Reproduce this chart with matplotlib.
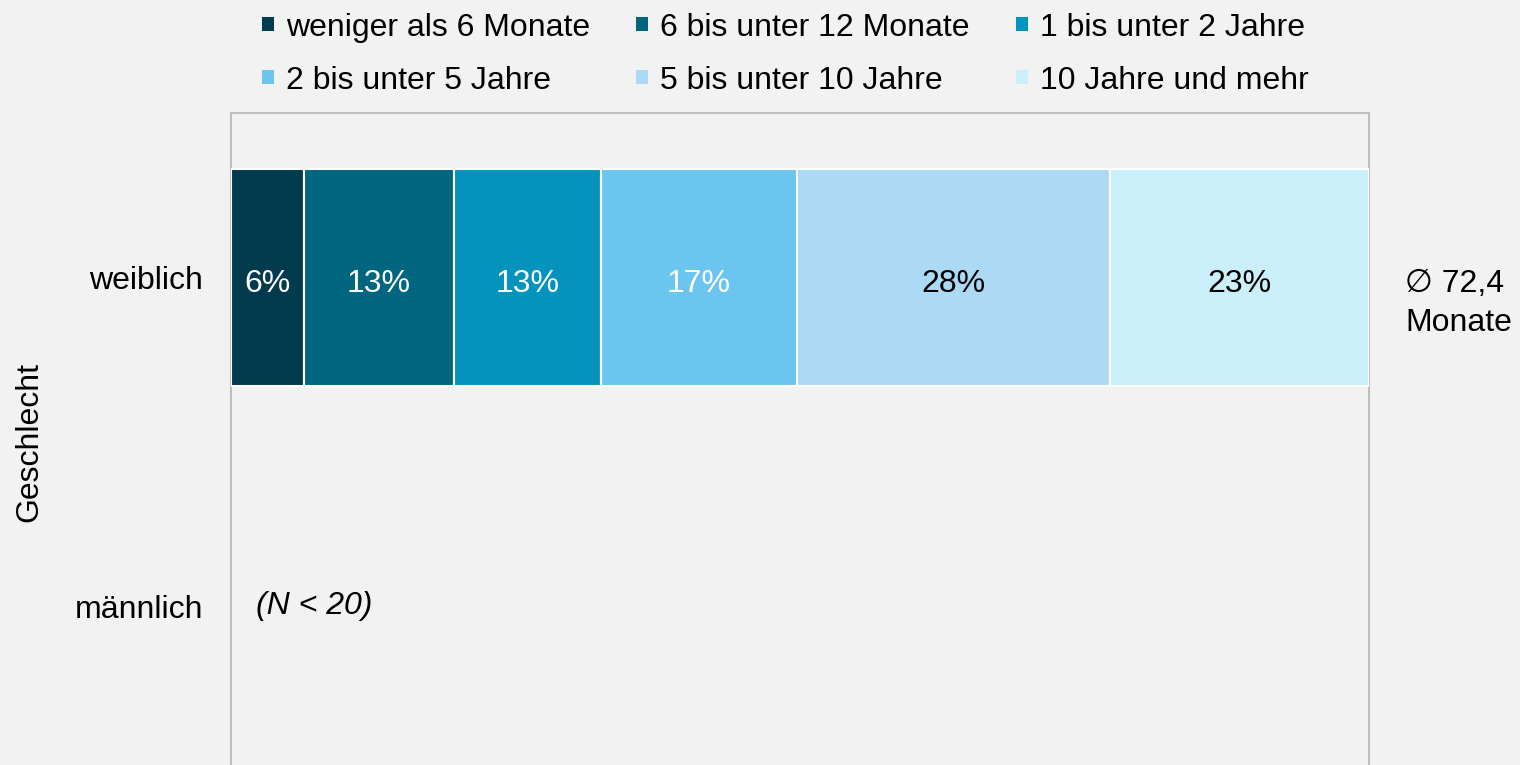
import matplotlib.pyplot as plt
from matplotlib.patches import Patch

plt.rcParams['font.family'] = ['Liberation Sans', 'DejaVu Sans']

# Data
groups = ["weiblich", "männlich"]
categories = ["weniger als 6 Monate", "6 bis unter 12 Monate", "1 bis unter 2 Jahre",
              "2 bis unter 5 Jahre", "5 bis unter 10 Jahre", "10 Jahre und mehr"]
values_weiblich = [6.4, 13.2, 12.9, 17.2, 27.5, 22.8]
colors = ["#023a4e", "#00657f", "#0393bd", "#6bc5ef", "#acdaf4", "#cbeffa"]
label_colors = ["white", "white", "white", "white", "black", "black"]
mean_text = "\u2205 72,4\nMonate"
note_maennlich = "(N < 20)"

fs = 23
bg = "#f2f2f2"
fig = plt.figure(figsize=(15.2, 7.65), dpi=100, facecolor=bg)
ax = fig.add_axes([0.152, -0.0072, 0.7487, 0.8595], facecolor=bg)

left = 0
for val, col, tcol in zip(values_weiblich, colors, label_colors):
    ax.barh(0, val, left=left, height=0.66, color=col, edgecolor="white", linewidth=1.5, zorder=3)
    ax.text(left + val / 2, 0.02, f"{round(val)}%", ha="center", va="center",
            color=tcol, fontsize=fs, zorder=4)
    left += val

ax.text(2.2, 1, note_maennlich, ha="left", va="center", fontsize=fs, style="italic")
ax.text(103.2, 0.08, mean_text, ha="left", va="center", fontsize=fs, linespacing=1.4,
        clip_on=False)

ax.set_xlim(0, 100)
ax.set_ylim(1.5, -0.5)
ax.set_yticks([0, 1])
ax.set_yticklabels(groups, fontsize=fs)
ax.set_xticks([])
ax.tick_params(axis="y", length=0, pad=20)
ax.set_ylabel("Geschlecht", fontsize=fs)
ax.yaxis.set_label_coords(-0.1643, 0.5)
for sp in ax.spines.values():
    sp.set_color("#bfbfbf")
    sp.set_linewidth(1.5)

# Legend, row-major order
handles = [Patch(facecolor=c, edgecolor="none") for c in colors]
order = [0, 3, 1, 4, 2, 5]
fig.legend([handles[i] for i in order], [categories[i] for i in order],
           ncol=3, loc="upper left", bbox_to_anchor=(0.1638, 1.0), frameon=False,
           borderaxespad=0, fontsize=fs, handlelength=0.38, handleheight=0.3,
           handletextpad=0.37, columnspacing=1.45, labelspacing=0.72)

fig.savefig("out.png", dpi=100, facecolor=bg)
